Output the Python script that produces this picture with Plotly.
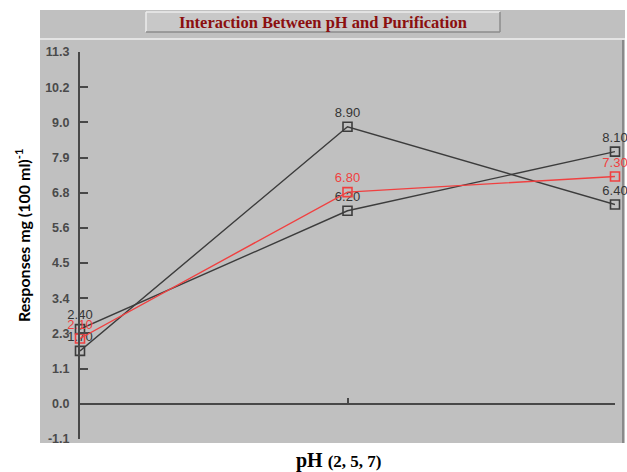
import plotly.graph_objects as go

ph_levels = ["2", "5", "7"]
series_a = [2.40, 6.20, 8.10]
series_b = [1.70, 8.90, 6.40]
series_red = [2.10, 6.80, 7.30]
y_tickvals = [-1.13, 0.0, 1.13, 2.26, 3.39, 4.52, 5.65, 6.78, 7.91, 9.04, 10.17, 11.3]
y_ticktext = ["-1.1", "0.0", "1.1", "2.3", "3.4", "4.5", "5.6", "6.8", "7.9", "9.0", "10.2", "11.3"]

W, H = 627, 472
L, R, T, B = 80, 12, 52, 33
pw, ph = W - L - R, H - T - B

def px(x):
    return (x - L) / pw

def py(y):
    return (H - B - y) / ph

GRAY = "#c0c0c0"
DARK = "#3c3c3c"
RED = "#f04040"

fig = go.Figure()
for vals, col, tcol in [(series_a, DARK, "#353535"), (series_b, DARK, "#353535"), (series_red, RED, RED)]:
    fig.add_trace(go.Scatter(
        x=ph_levels, y=vals, mode="lines+markers+text",
        line=dict(color=col, width=1.4),
        marker=dict(symbol="square-open", size=9, color=col, line=dict(width=1.6, color=col)),
        text=[f"{v:.2f}" for v in vals], textposition="top center",
        textfont=dict(family="Liberation Sans", size=13, color=tcol),
        cliponaxis=False, showlegend=False, hoverinfo="skip",
    ))

shapes = [
    dict(type="rect", xref="paper", yref="paper", x0=px(40), x1=px(625), y0=py(443), y1=py(10),
         fillcolor=GRAY, line=dict(width=0), layer="below"),
    dict(type="line", xref="paper", yref="paper", x0=px(40), x1=px(625), y0=py(39), y1=py(39),
         line=dict(color="#e4e4e4", width=2), layer="below"),
    dict(type="line", xref="paper", yref="paper", x0=px(623), x1=px(623), y0=py(443), y1=py(40),
         line=dict(color="#8a8a8a", width=2), layer="below"),
    dict(type="rect", xref="paper", yref="paper", x0=px(146), x1=px(500), y0=py(32), y1=py(12),
         fillcolor="#c8c8c8", line=dict(width=0), layer="below"),
    dict(type="line", xref="paper", yref="paper", x0=px(146), x1=px(500), y0=py(12), y1=py(12),
         line=dict(color="#ececec", width=1.5), layer="below"),
    dict(type="line", xref="paper", yref="paper", x0=px(146), x1=px(146), y0=py(32), y1=py(12),
         line=dict(color="#ececec", width=1.5), layer="below"),
    dict(type="line", xref="paper", yref="paper", x0=px(146), x1=px(500), y0=py(32), y1=py(32),
         line=dict(color="#8c8c8c", width=1.5), layer="below"),
    dict(type="line", xref="paper", yref="paper", x0=px(500), x1=px(500), y0=py(32), y1=py(12),
         line=dict(color="#8c8c8c", width=1.5), layer="below"),
]

annotations = [
    dict(text="<b>Interaction Between pH and Purification</b>", xref="paper", yref="paper",
         x=px(323), y=py(22), showarrow=False, xanchor="center", yanchor="middle",
         font=dict(family="Liberation Serif", size=16.5, color="#8b0f0f")),
    dict(text="<b>Responses mg (100 ml)<sup>-1</sup></b>", xref="paper", yref="paper",
         x=px(22), y=py(236), showarrow=False, textangle=-90, xanchor="center", yanchor="middle",
         font=dict(family="Lato", size=16, color="black")),
    dict(text="<b>pH</b> <b><span style='font-size:17px'>(2, 5, 7)</span></b>", xref="paper", yref="paper",
         x=px(339), y=py(460), showarrow=False, xanchor="center", yanchor="middle",
         font=dict(family="Liberation Serif", size=20, color="black")),
]

zero_pos = (0 - y_tickvals[0]) / (y_tickvals[-1] - y_tickvals[0])

fig.update_layout(
    width=W, height=H, margin=dict(l=L, r=R, t=T, b=B),
    paper_bgcolor="white", plot_bgcolor=GRAY,
    shapes=shapes, annotations=annotations, hovermode=False,
    xaxis=dict(type="category", range=[0, 2], anchor="free", position=zero_pos,
               showline=True, linecolor="#484848", linewidth=2,
               ticks="inside", ticklen=5, tickwidth=1.5, tickcolor="#484848",
               showticklabels=False, showgrid=False, zeroline=False),
    yaxis=dict(range=[y_tickvals[0], y_tickvals[-1]], tickvals=y_tickvals, ticktext=y_ticktext,
               showline=True, linecolor="#484848", linewidth=2,
               ticks="inside", ticklen=8, tickwidth=1.5, tickcolor="#484848",
               ticklabelstandoff=6,
               tickfont=dict(family="Liberation Sans", size=12.5, color="#4a4a4a", weight="bold"),
               showgrid=False, zeroline=False),
)

fig.write_html(
    "out.html",
    config={"displayModeBar": False},
    post_script="document.body.style.margin='0';document.body.style.padding='0';document.body.style.overflow='hidden';",
)
